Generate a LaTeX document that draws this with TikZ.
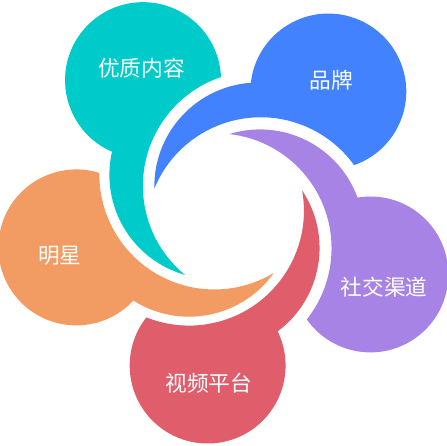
\documentclass[tikz,border=0pt]{standalone}
\usepackage{fontspec}
\newfontfamily\cjk{Noto Sans CJK SC}

\definecolor{cteal}{HTML}{00CBCB}
\definecolor{cblue}{HTML}{4382FF}
\definecolor{cpurple}{HTML}{A683E5}
\definecolor{cred}{HTML}{E05D6B}
\definecolor{corange}{HTML}{F29B63}

\newcommand{\petalvar}{
\def\rc{78}    % bubble radius
\def\dc{156}   % bubble distance from the centre
\def\ro{104}   % outer edge of the tail
\def\ri{115}   % inner edge of the tail
}

\tikzset{petal label/.style={text=white,font=\cjk\fontsize{18.5}{20}\selectfont}}

\begin{document}
\begin{tikzpicture}[scale=0.03]
      \petalvar
      \useasboundingbox (-228,-234) rectangle (219,211);
      \fill[white] (-228,-234) rectangle (219,211);
%
      % one bubble with its tail, turned round the centre
      \foreach \ang/\col in {0/cteal,-73/cblue,-147/cpurple,-220.5/cred,-289.5/corange}{
        \begin{scope}[rotate=\ang]
          \fill[\col] (123:\dc) ++(2.32:\rc)
                arc[start angle=2.32, end angle=246.55, radius=\rc]
                arc[start angle=167.16, end angle=254.15, radius=\ro]
                arc[start angle=230.67, end angle=108.72, radius=\ri] -- cycle;
        \end{scope}
      }
%
      \node[petal label] (content) at (-86.5,143) {优质内容};
      \node[petal label] (brand)   at (103.5,131) {品牌};
      \node[petal label] (social)  at (156,-76)   {社交渠道};
      \node[petal label] (video)   at (-19,-172)  {视频平台};
      \node[petal label] (star)    at (-168,-45)  {明星};
    \end{tikzpicture}
\end{document}
